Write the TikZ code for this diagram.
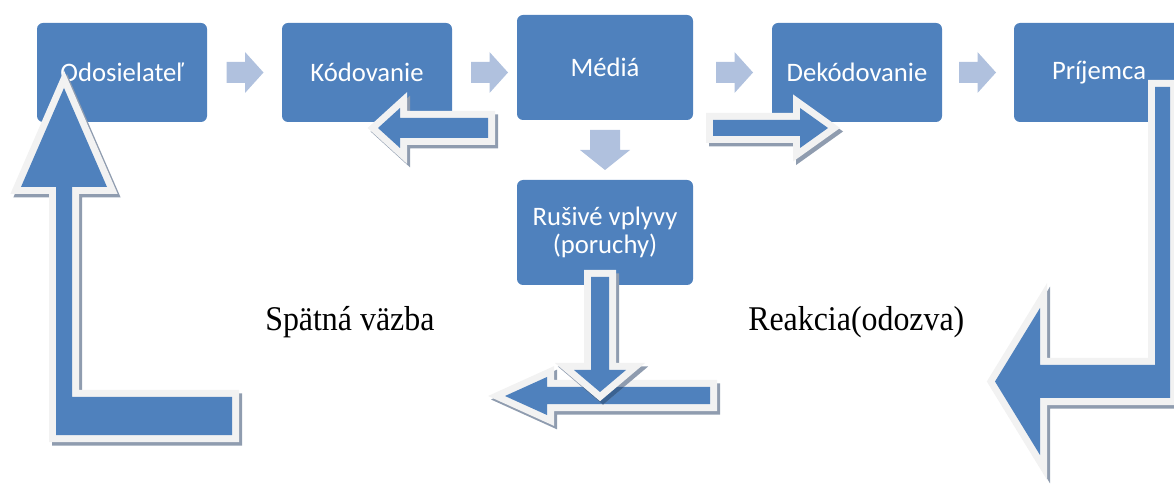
\documentclass[tikz,border=0pt]{standalone}
\usepackage{fontspec}
\usepackage{graphicx}
\setmainfont{Liberation Serif}
\newfontfamily\boxfont{Carlito}
\usetikzlibrary{calc}

\definecolor{boxblue}{HTML}{4F81BD}
\definecolor{chevblue}{HTML}{B0C1DE}
\definecolor{rim}{HTML}{F2F2F2}
\definecolor{shade}{HTML}{8F9CAF}
\definecolor{shadeblue}{HTML}{3A6292}

\tikzset{
  stage/.style={fill=boxblue, rounded corners=4.5pt, inner sep=0pt, text=white,
    font=\boxfont\fontsize{20pt}{20.5pt}\selectfont, align=center,
    minimum width=127.5pt, minimum height=74.25pt},
  bigstage/.style={stage, minimum width=132pt, minimum height=78.75pt},
  caption/.style={font=\fontsize{26pt}{30pt}\selectfont, inner sep=0pt, anchor=base west},
  arrowshadow/.style={fill=shade, draw=shade, line width=10.5pt, shift={(3,3.5)}},
  arrowrim/.style={fill=rim, draw=rim, line width=10.5pt},
  arrowbody/.style={fill=boxblue},
  chevR/.pic={\fill[chevblue] (-18.5,-10.5) -- (0,-10.5) -- (0,-20.5) -- (18.5,0)
      -- (0,20.5) -- (0,10.5) -- (-18.5,10.5) -- cycle;},
  chevD/.pic={\fill[chevblue] (-15,-20) -- (15,-20) -- (15,0) -- (25,0)
      -- (0,20) -- (-25,0) -- (-15,0) -- cycle;},
}

% block arrow: drop shadow, light rim, blue body
\newcommand\blockarrow[1]{%
  \path[arrowshadow] #1;
  \path[arrowrim] #1;
  \path[arrowbody] #1;}

\newcommand\noiseleft{(710,387) -- (547,387) -- (547,377) -- (505,396) -- (547,415)
  -- (547,404) -- (710,404) -- cycle}
\newcommand\noisedown{(591,277) -- (609,277) -- (609,370) -- (626,370) -- (600,392)
  -- (574,370) -- (591,370) -- cycle}

\begin{document}
\begin{tikzpicture}[x=0.75pt, y=-0.75pt]
\useasboundingbox (0,0) rectangle (1174,484);
\clip (0,0) rectangle (1174,484);

% process stages
\node[stage] (odo) at (122,72.5) {Odosielateľ};
\node[stage] (kod) at (367,72.5) {Kódovanie};
\node[bigstage] (med) at (605,67.5) {Médiá};
\node[stage] (dek) at (857,72.5) {Dekódovanie};
\node[stage] (pri) at (1099,72.5) {Príjemca};
\node[bigstage] (rus) at (605,232.5) {Rušivé vplyvy\\(poruchy)};

% light chevrons between stages
\pic at (245,72.5) {chevR};
\pic at (489.5,72.5) {chevR};
\pic at (734.5,72.5) {chevR};
\pic at (977.5,72.5) {chevR};
\pic at (605,150) {chevD};

% captions
\node[caption] (spat) at (265,331) {\scalebox{0.92}[1]{Spätná väzba}};
\node[caption] (reak) at (748,331) {\scalebox{0.92}[1]{Reakcia(odozva)}};

% feedback arrow up to the sender
\blockarrow{(64,88) -- (107,187) -- (72,187) -- (72,397) -- (232,397) -- (232,435)
  -- (56,435) -- (56,187) -- (21,187) -- cycle}
% reaction arrow from the receiver
\blockarrow{(1155,87) -- (1170,87) -- (1170,398) -- (1040,398) -- (1040,455)
  -- (995,381.5) -- (1040,308) -- (1040,365) -- (1155,365) -- cycle}
% arrows under the top row
\blockarrow{(488,118) -- (400,118) -- (400,108) -- (378,128) -- (400,148)
  -- (400,138) -- (488,138) -- cycle}
\blockarrow{(713,120) -- (800,120) -- (800,108) -- (828,128) -- (800,148)
  -- (800,136) -- (713,136) -- cycle}

% noise arrows
\blockarrow{\noiseleft}
\path[arrowshadow] \noisedown;
\begin{scope}
  \clip \noiseleft;
  \path[arrowshadow, fill=shadeblue, draw=shadeblue] \noisedown;
\end{scope}
\path[arrowrim] \noisedown;
\path[arrowbody] \noisedown;
\end{tikzpicture}
\end{document}
